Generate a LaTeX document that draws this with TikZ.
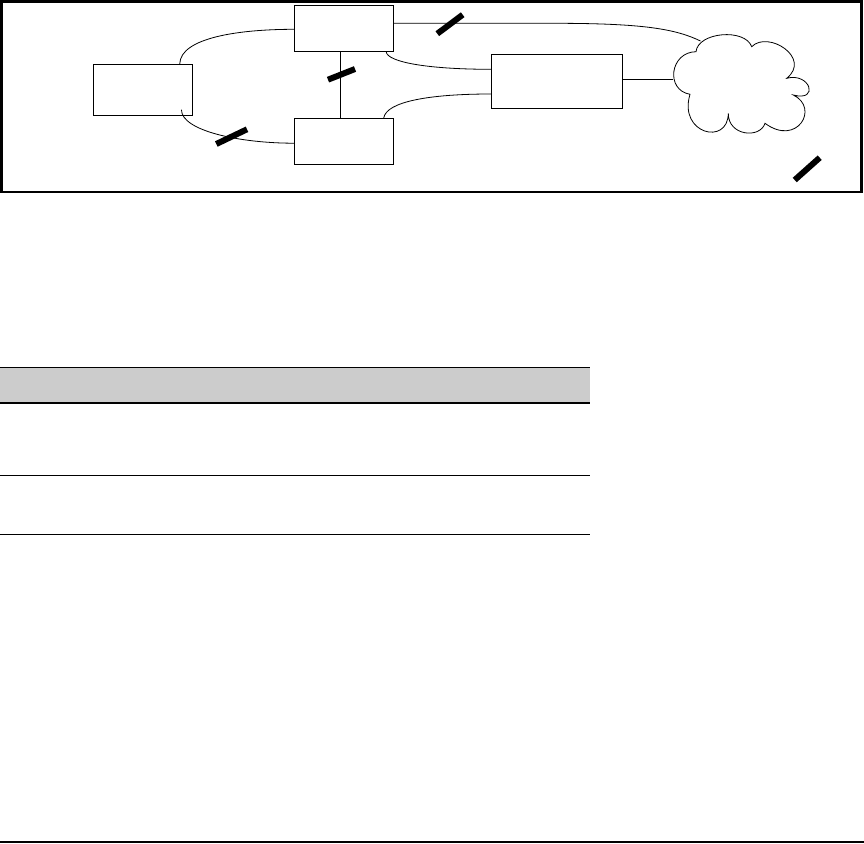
\documentclass[tikz,border=0pt]{standalone}
\begin{document}
\begin{tikzpicture}[x=1pt,y=-1pt,
  devbox/.style={draw=black, line width=0.9pt, rectangle, inner sep=0pt, fill=white},
  link/.style={draw=black, line width=0.8pt},
  bar/.style={draw=black, line width=6pt, line cap=butt},
  frameline/.style={draw=black, line width=2.6pt},
  rule/.style={draw=black, line width=1.2pt}]
\useasboundingbox (0,0) rectangle (864,843);
% outer frame
\draw[frameline] (1.3,1.3) rectangle (861.2,192);
% boxes
\node[devbox, minimum width=99pt, minimum height=51pt] (A) at (142.8,89.8) {};
\node[devbox, minimum width=99pt, minimum height=46pt] (B) at (343.8,28.3) {};
\node[devbox, minimum width=99pt, minimum height=45.7pt] (C) at (343.8,141.2) {};
\node[devbox, minimum width=131pt, minimum height=54pt] (D) at (556.8,81.3) {};
% cloud
\draw[line width=0.8pt, fill=white]
  (696,51.7) .. controls (698,32) and (745,28) .. (751.7,46.7)
  .. controls (768,30) and (812,58) .. (786.7,78.3)
  .. controls (810,72) and (820,102) .. (793.3,95)
  .. controls (820,108) and (797,147) .. (765,123.3)
  .. controls (760,139) and (728,136) .. (728.3,113.3)
  .. controls (728,146) and (678,134) .. (690,94.3)
  .. controls (665,90) and (670,52) .. (696,51.7) -- cycle;
\coordinate (cloudtop) at (700.5,41);
\coordinate (cloudleft) at (672.5,79.3);
% connectors
\draw[link] ([xshift=-13pt]A.north east) .. controls +(0.7,-26.3) and +(-54.3,0) .. ([yshift=-1pt]B.west);
\draw[link] ([xshift=-11.3pt,yshift=6pt]A.south east) .. controls +(0,21) and +(-54.3,0) .. ([yshift=-2pt]C.west);
\draw[link] ([xshift=-7.6pt]B.south east) .. controls +(1.3,10.7) and +(-61.3,0) .. ([yshift=12pt]D.west);
\draw[link] ([xshift=-10pt]C.north east) .. controls +(2.7,-16.3) and +(-61.3,0) .. ([yshift=-12.7pt]D.west);
\draw[link] ([xshift=-3.5pt]B.south) -- ([xshift=-3.5pt]C.north);
\draw[link] ([yshift=5pt]B.east) -- ++(160,0) .. controls +(90,0) and +(-25,-12) .. (cloudtop);
\draw[link] ([yshift=2pt]D.east) -- (cloudleft);
% break marks
\draw[bar] (216.3,144) -- (247,129.3);
\draw[bar] (328,79.7) -- (355,69);
\draw[bar] (437.3,33.7) -- (462.7,14.7);
\draw[bar] (794.7,180) -- (819.7,157.7);
% table
\fill[black!20] (0,367.3) rectangle (590,402.3);
\draw[black, line width=1.1pt] (0,367.5) -- (590,367.5);
\draw[black, line width=2.3pt] (0,402.8) -- (590,402.8);
\draw[rule] (0,475.4) -- (590,475.4);
\draw[rule] (0,534.2) -- (590,534.2);
% bottom rule
\draw[black, line width=1.6pt] (0,842.2) -- (864,842.2);
\end{tikzpicture}
\end{document}
